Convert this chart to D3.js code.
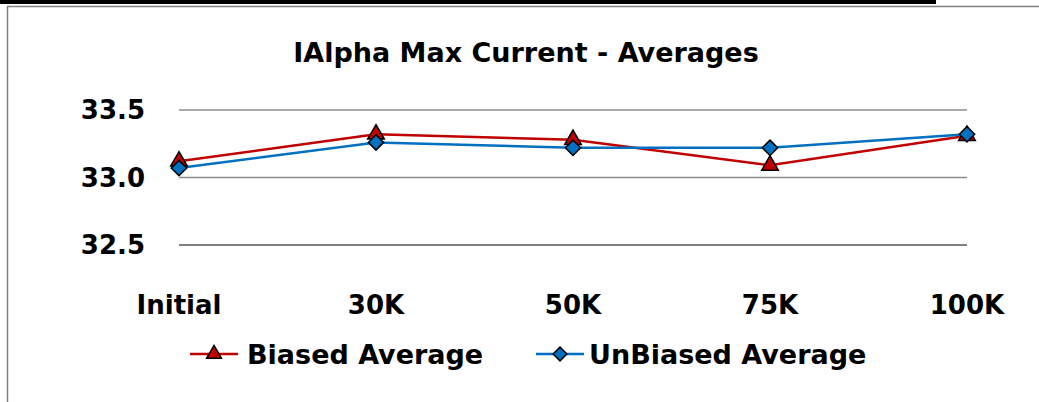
<!DOCTYPE html>
<html>
<head>
<meta charset="utf-8">
<script src="https://cdn.jsdelivr.net/npm/d3@7"></script>
<style>
  body { margin: 0; background: #fff; }
  svg text { font-family: "DejaVu Sans", sans-serif; font-weight: bold; fill: #000; }
</style>
</head>
<body>
<div id="chart"></div>
<script>
const categories = ["Initial", "30K", "50K", "75K", "100K"];
const biased = [33.12, 33.32, 33.28, 33.09, 33.31];
const unbiased = [33.07, 33.26, 33.22, 33.22, 33.32];
const yTicks = [32.5, 33.0, 33.5];

const width = 1039, height = 402;
const margin = {top: 110, right: 72, bottom: 157, left: 179};

const svg = d3.select("#chart").append("svg")
    .attr("width", width)
    .attr("height", height);

// frame
svg.append("rect").attr("x", 0).attr("y", 0).attr("width", 936).attr("height", 4).attr("fill", "#000");
svg.append("path")
    .attr("d", `M7.5,${height} V6.5 H${width}`)
    .attr("fill", "none").attr("stroke", "#808080").attr("stroke-width", 1.5);

const x = d3.scalePoint()
    .domain(categories)
    .range([margin.left, width - margin.right])
    .padding(0);

const y = d3.scaleLinear()
    .domain([32.5, 33.5])
    .range([height - margin.bottom, margin.top]);

// gridlines
svg.append("g").selectAll("line")
    .data(yTicks.slice(1))
    .enter().append("line")
    .attr("x1", margin.left).attr("x2", width - margin.right)
    .attr("y1", d => y(d)).attr("y2", d => y(d))
    .attr("stroke", "#8c8c8c").attr("stroke-width", 1.5);

// baseline
svg.append("line")
    .attr("x1", margin.left).attr("x2", width - margin.right)
    .attr("y1", y(32.5)).attr("y2", y(32.5))
    .attr("stroke", "#000").attr("stroke-width", 1);

// Axis Y labels
svg.append("g").selectAll("text")
    .data(yTicks)
    .enter().append("text")
    .attr("x", 145)
    .attr("y", d => y(d))
    .attr("dy", "0.36em")
    .attr("text-anchor", "end")
    .style("font-size", "26px")
    .text(d => d.toFixed(1));

// Axis X labels
svg.append("g").selectAll("text")
    .data(categories)
    .enter().append("text")
    .attr("x", d => x(d))
    .attr("y", 305)
    .attr("dy", "0.36em")
    .attr("text-anchor", "middle")
    .style("font-size", "26px")
    .text(d => d);

// Title
svg.append("text")
    .attr("x", 526)
    .attr("y", 52)
    .attr("dy", "0.36em")
    .attr("text-anchor", "middle")
    .style("font-size", "27px")
    .text("IAlpha Max Current - Averages");

const series = [
    {name: "Biased Average", values: biased, color: "#C00000", shape: d3.symbolTriangle, size: 120},
    {name: "UnBiased Average", values: unbiased, color: "#0070C0", shape: d3.symbolDiamond2, size: 150}
];

const line = d3.line()
    .x((d, i) => x(categories[i]))
    .y(d => y(d));

series.forEach(s => {
    svg.append("path")
        .datum(s.values)
        .attr("fill", "none")
        .attr("stroke", s.color)
        .attr("stroke-width", 2.5)
        .attr("d", line);
});

series.forEach(s => {
    svg.append("g").selectAll("path")
        .data(s.values)
        .enter().append("path")
        .attr("transform", (d, i) => `translate(${x(categories[i])},${y(d)})`)
        .attr("d", d3.symbol().type(s.shape).size(s.size))
        .attr("fill", s.color)
        .attr("stroke", "#000")
        .attr("stroke-width", 1.5);
});

// Legend
const legendX = [190, 536];
series.forEach((s, i) => {
    const g = svg.append("g").attr("transform", `translate(${legendX[i]},354)`);
    g.append("line").attr("x1", 0).attr("x2", 48).attr("y1", 0).attr("y2", 0)
        .attr("stroke", s.color).attr("stroke-width", 2.5);
    g.append("path")
        .attr("transform", "translate(24,0)")
        .attr("d", d3.symbol().type(s.shape).size(s.size * 0.8))
        .attr("fill", s.color).attr("stroke", "#000").attr("stroke-width", 1.5);
    g.append("text")
        .attr("x", i === 0 ? 57 : 53)
        .attr("y", 0)
        .attr("dy", "0.36em")
        .style("font-size", "27px")
        .text(s.name);
});
</script>
</body>
</html>
